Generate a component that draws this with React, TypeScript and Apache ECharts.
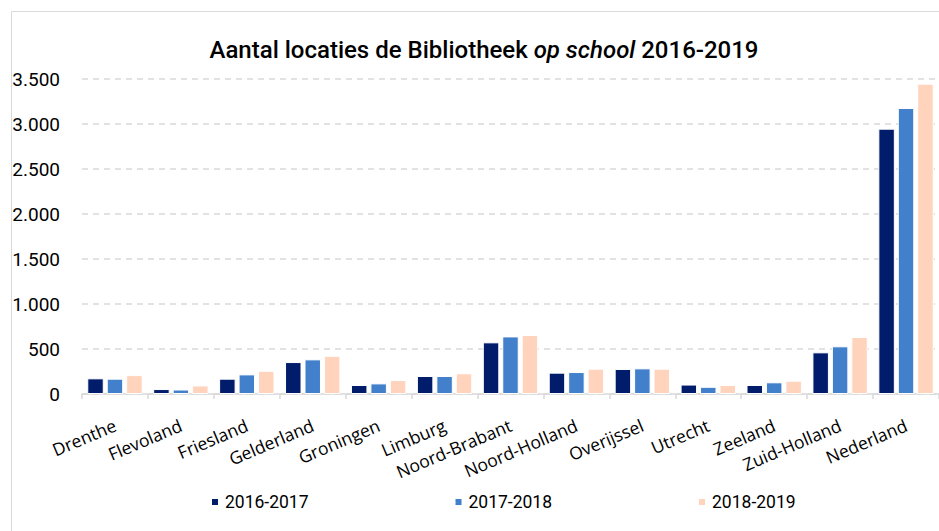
import React, { useEffect, useRef } from "react";
import * as echarts from "echarts";

const categories = [
  "Drenthe", "Flevoland", "Friesland", "Gelderland", "Groningen", "Limburg",
  "Noord-Brabant", "Noord-Holland", "Overijssel", "Utrecht", "Zeeland",
  "Zuid-Holland", "Nederland",
];
const seriesNames = ["2016-2017", "2017-2018", "2018-2019"];
const values2016 = [174, 55, 170, 355, 100, 200, 574, 237, 278, 105, 100, 463, 2948];
const values2017 = [170, 50, 218, 385, 118, 200, 640, 244, 285, 80, 130, 530, 3178];
const values2018 = [210, 95, 258, 425, 155, 230, 655, 281, 281, 100, 148, 633, 3448];
const colors = ["#001c6b", "#4280cb", "#ffd3bc"];

const fmt = (v: number) => String(v).replace(/\B(?=(\d{3})+(?!\d))/g, ".");

export default function App() {
  const ref = useRef<HTMLDivElement>(null);
  useEffect(() => {
    if (!ref.current) return;
    const chart = echarts.init(ref.current, null, { renderer: "svg" });
    const font = "Roboto";
    const data = [values2016, values2017, values2018];
    chart.setOption({
      animation: false,
      backgroundColor: "#ffffff",
      textStyle: { fontFamily: font },
      graphic: [
        {
          type: "rect",
          shape: { x: 11.5, y: 11.5, width: 1000, height: 1000 },
          style: { fill: "none", stroke: "#d9d9d9", lineWidth: 1 },
          silent: true,
        },
      ],
      title: {
        text: "{n|Aantal locaties de Bibliotheek }{i|op school}{n| 2016-2019}",
        left: 479,
        textAlign: "center",
        top: 33,
        textStyle: {
          rich: {
            n: { fontFamily: font, fontSize: 24, fontWeight: 500, color: "#000" },
            i: { fontFamily: font, fontSize: 24, fontWeight: 500, fontStyle: "italic", color: "#000" },
          },
        },
      },
      legend: {
        bottom: 15,
        left: 205,
        itemWidth: 8,
        itemHeight: 8,
        itemGap: 145,
        icon: "rect",
        textStyle: { fontFamily: font, fontSize: 17.5, color: "#000", padding: [0, 0, 0, 1] },
        data: seriesNames,
      },
      grid: { left: 82, right: -13, top: 79, bottom: 137, containLabel: false },
      xAxis: {
        type: "category",
        data: categories,
        axisLine: { lineStyle: { color: "#d9d9d9", width: 1.5 } },
        axisTick: { show: true, length: 5, lineStyle: { color: "#d9d9d9", width: 1.5 } },
        axisLabel: {
          rotate: 23,
          fontSize: 17.5,
          color: "#000",
          fontFamily: "Open Sans",
          margin: 30,
          interval: 0,
        },
      },
      yAxis: {
        type: "value",
        min: 0,
        max: 3500,
        interval: 500,
        axisLine: { show: false },
        axisTick: { show: false },
        splitLine: { lineStyle: { color: "#d9d9d9", type: [6, 5], width: 1.5 } },
        axisLabel: {
          fontSize: 19,
          color: "#000",
          fontFamily: font,
          margin: 22,
          formatter: (v: number) => fmt(v),
        },
      },
      series: seriesNames.map((name, i) => ({
        name,
        type: "bar",
        data: data[i],
        barGap: "18%",
        barCategoryGap: "16%",
        itemStyle: { color: colors[i], borderColor: "#ffffff", borderWidth: 1 },
      })),
    });
    return () => chart.dispose();
  }, []);
  return (
    <div
      ref={ref}
      style={{ position: "absolute", left: 0, top: 0, width: 939, height: 531, overflow: "hidden" }}
    />
  );
}
